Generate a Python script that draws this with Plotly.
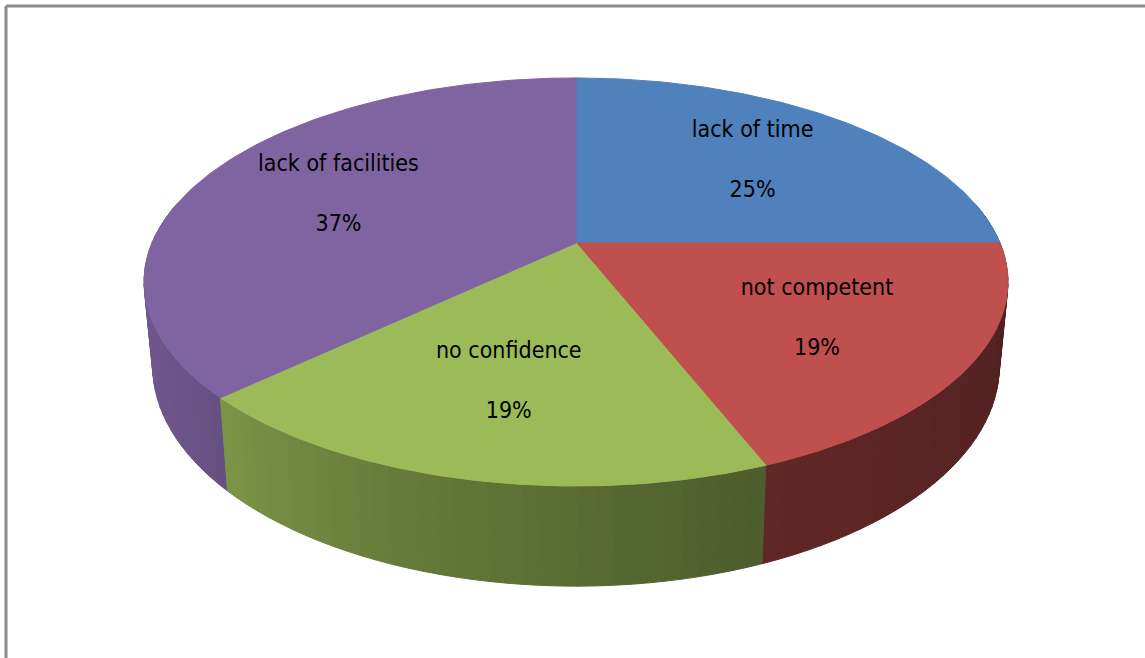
import numpy as np
import plotly.graph_objects as go

# ---- data ----
categories = ["lack of time", "not competent", "no confidence", "lack of facilities"]
values = [25, 19, 19, 37]
pct_labels = ["25%", "19%", "19%", "37%"]
colors = ["#4F81BD", "#C0504D", "#9BBB59", "#8064A2"]

# ---- layout / projection parameters (pixel space) ----
W, H = 1145, 658
CX, CY = 576, 243          # projected pie centre
AX, BY, K = 424.0, 196.6, 0.191   # horizontal scale, vertical scale, perspective
DEPTH = 81.0
BOT_SCALE = 0.98
LABEL_R = 0.64


def hex_rgb(h):
    h = h.lstrip("#")
    return tuple(int(h[i:i + 2], 16) for i in (0, 2, 4))


def shade(hexcol, f):
    r, g, b = hex_rgb(hexcol)
    return "rgb(%d,%d,%d)" % (int(r * f), int(g * f), int(b * f))


def top_pt(theta, r=1.0):
    t = np.radians(theta)
    u, v = r * np.sin(t), r * np.cos(t)
    w = 1 + K * v
    return CX + AX * u / w, CY - BY * v / w


def bot_pt(theta):
    t = np.radians(theta)
    u, v = np.sin(t), np.cos(t)
    w = 1 + K * v
    return CX + BOT_SCALE * AX * u / w, CY - BY * v / w + DEPTH / w


def light(theta):
    return float(np.interp(theta, [0, 90, 160, 200, 235, 270, 360],
                           [0.40, 0.40, 0.50, 0.66, 0.84, 0.90, 0.90]))


total = float(sum(values))
bounds = np.concatenate([[0.0], np.cumsum(values) / total * 360.0])

fig = go.Figure()

# ---- side walls (drawn back to front) ----
strips = []
for i, col in enumerate(colors):
    a0, a1 = max(bounds[i], 78.0), min(bounds[i + 1], 282.0)
    if a1 <= a0:
        continue
    n = max(1, int(np.ceil((a1 - a0) / 2.0)))
    edges = np.linspace(a0, a1, n + 1)
    for s in range(n):
        t0, t1 = edges[s], edges[s + 1]
        ts = np.linspace(t0, t1, 4)
        tx, ty = top_pt(ts)
        bx, by = bot_pt(ts[::-1])
        xs = np.concatenate([tx, bx, tx[:1]])
        ys = np.concatenate([ty, by, ty[:1]])
        mid = 0.5 * (t0 + t1)
        strips.append((abs(mid - 180), xs, ys, shade(col, light(mid))))

strips.sort(key=lambda s: -s[0])
for _, xs, ys, c in strips:
    fig.add_trace(go.Scatter(x=xs, y=ys, mode="lines", fill="toself",
                             fillcolor=c, line=dict(color=c, width=1),
                             hoverinfo="skip", showlegend=False))

# ---- top faces ----
for i, col in enumerate(colors):
    ts = np.linspace(bounds[i], bounds[i + 1], 120)
    tx, ty = top_pt(ts)
    xs = np.concatenate([[CX], tx, [CX]])
    ys = np.concatenate([[CY], ty, [CY]])
    fig.add_trace(go.Scatter(x=xs, y=ys, mode="lines", fill="toself",
                             fillcolor=col, line=dict(color=col, width=1),
                             name=categories[i], hoverinfo="name",
                             showlegend=False))

# ---- labels ----
mids = 0.5 * (bounds[:-1] + bounds[1:])
lx, ly = top_pt(mids, LABEL_R)
fig.add_trace(go.Scatter(
    x=lx, y=ly, mode="text",
    text=[f"{c}<br><br>{p}" for c, p in zip(categories, pct_labels)],
    textposition="middle center",
    textfont=dict(family="DejaVu Sans Condensed, Liberation Sans, sans-serif",
                  size=23, color="#000000"),
    hoverinfo="skip", showlegend=False))

# ---- frame ----
fig.add_shape(type="line", x0=6, y0=6, x1=W + 5, y1=6, xref="x", yref="y",
              line=dict(color="#8a8a8a", width=3))
fig.add_shape(type="line", x0=6, y0=6, x1=6, y1=H + 5, xref="x", yref="y",
              line=dict(color="#8a8a8a", width=3))

fig.update_layout(
    width=W, height=H, margin=dict(l=0, r=0, t=0, b=0),
    paper_bgcolor="white", plot_bgcolor="white",
    xaxis=dict(range=[0, W], visible=False, fixedrange=True),
    yaxis=dict(range=[H, 0], visible=False, fixedrange=True),
    showlegend=False,
)

fig.write_html("out.html")
